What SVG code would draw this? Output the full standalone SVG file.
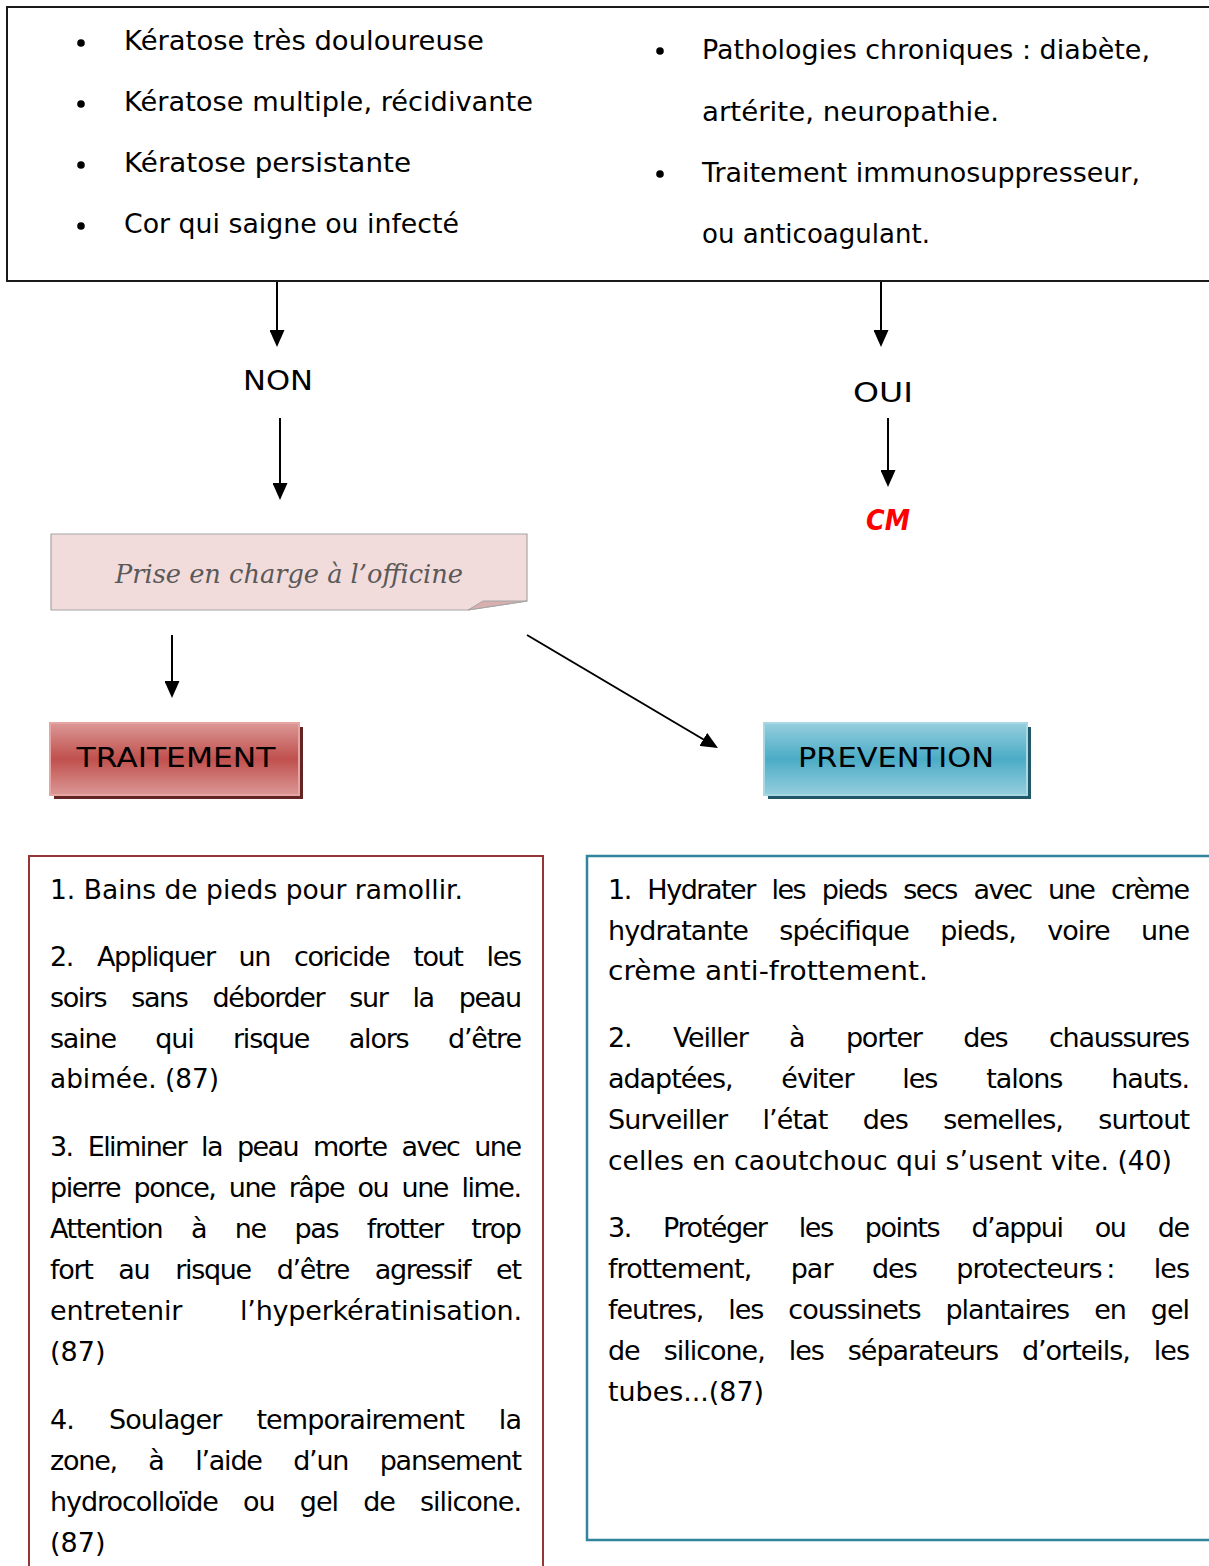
<svg xmlns="http://www.w3.org/2000/svg" width="1209" height="1566" viewBox="0 0 1209 1566">
<style>
.t{font-family:"DejaVu Sans","Noto Sans",sans-serif;font-size:27px;fill:#000}
.lbl{font-family:"DejaVu Sans","Noto Sans",sans-serif;font-size:27px;fill:#000;text-anchor:middle}
.conn{stroke:#000;stroke-width:2;fill:none;marker-end:url(#ah)}
.bul{fill:#000}
</style>
<defs>
<marker id="ah" viewBox="0 0 17 15" refX="14" refY="7.5" markerWidth="17" markerHeight="15" markerUnits="userSpaceOnUse" orient="auto">
<path d="M0,0 L17,7.5 L0,15 Z" fill="#000"/>
</marker>
<linearGradient id="gRed" x1="0" y1="0" x2="0" y2="1">
<stop offset="0" stop-color="#DB9896"/>
<stop offset="0.5" stop-color="#C0504D"/>
<stop offset="1" stop-color="#DB9896"/>
</linearGradient>
<linearGradient id="gBlue" x1="0" y1="0" x2="0" y2="1">
<stop offset="0" stop-color="#95CEDD"/>
<stop offset="0.5" stop-color="#4BACC6"/>
<stop offset="1" stop-color="#95CEDD"/>
</linearGradient>
</defs>

<g id="criteria">
<rect x="7" y="7" width="1212" height="274" fill="#fff" stroke="#1a1a1a" stroke-width="2"/>
<circle class="bul" cx="81" cy="43" r="3.8"/>
<circle class="bul" cx="81" cy="104" r="3.8"/>
<circle class="bul" cx="81" cy="165" r="3.8"/>
<circle class="bul" cx="81" cy="226" r="3.8"/>
<text class="t" x="124" y="50" textLength="360" lengthAdjust="spacingAndGlyphs">Kératose très douloureuse</text>
<text class="t" x="124" y="111" textLength="409" lengthAdjust="spacingAndGlyphs">Kératose multiple, récidivante</text>
<text class="t" x="124" y="172" textLength="287" lengthAdjust="spacingAndGlyphs">Kératose persistante</text>
<text class="t" x="124" y="233" textLength="335" lengthAdjust="spacingAndGlyphs">Cor qui saigne ou infecté</text>
<circle class="bul" cx="660" cy="51" r="3.8"/>
<circle class="bul" cx="660" cy="174" r="3.8"/>
<text class="t" x="702" y="59" textLength="448" lengthAdjust="spacingAndGlyphs">Pathologies chroniques : diabète,</text>
<text class="t" x="702" y="121" textLength="297" lengthAdjust="spacingAndGlyphs">artérite, neuropathie.</text>
<text class="t" x="702" y="182" textLength="438" lengthAdjust="spacingAndGlyphs">Traitement immunosuppresseur,</text>
<text class="t" x="702" y="243" textLength="228" lengthAdjust="spacingAndGlyphs">ou anticoagulant.</text>
</g>

<g id="connectors">
<path class="conn" d="M277,282 V344"/>
<path class="conn" d="M280,418 V497"/>
<path class="conn" d="M881,282 V344"/>
<path class="conn" d="M888,418 V484"/>
<path class="conn" d="M172,635 V695"/>
<path class="conn" d="M527,635 L715.4,746.5"/>
</g>

<g id="non">
<text class="lbl" x="278" y="390" textLength="70" lengthAdjust="spacingAndGlyphs">NON</text>
</g>
<g id="oui">
<text class="lbl" x="883" y="402" textLength="60" lengthAdjust="spacingAndGlyphs">OUI</text>
</g>
<g id="cm">
<text x="888" y="530" text-anchor="middle" font-family="DejaVu Sans, sans-serif" font-size="29" font-weight="bold" font-style="italic" fill="#FF0000" textLength="44" lengthAdjust="spacingAndGlyphs">CM</text>
</g>

<g id="officine">
<path d="M51,534 H527 V601 L468,610 H51 Z" fill="#F2DCDB" stroke="#A6A6A6" stroke-width="1.2"/>
<path d="M468,610 L483,601 L527,601 Z" fill="#D8AFAE" stroke="#A6A6A6" stroke-width="1"/>
<text x="289" y="583" text-anchor="middle" font-family="DejaVu Serif, Liberation Serif, serif" font-style="italic" font-size="26.5" fill="#595959" textLength="348" lengthAdjust="spacingAndGlyphs">Prise en charge à l’officine</text>
</g>

<g id="traitement">
<rect x="54" y="727" width="249" height="72" fill="#632523"/>
<rect x="50" y="723" width="249" height="72" fill="url(#gRed)" stroke="#E6A4A2" stroke-width="2"/>
<text class="lbl" x="176" y="767" textLength="199" lengthAdjust="spacingAndGlyphs">TRAITEMENT</text>
</g>

<g id="prevention">
<rect x="768" y="727" width="263" height="72" fill="#215968"/>
<rect x="764" y="723" width="263" height="72" fill="url(#gBlue)" stroke="#A9D8E5" stroke-width="2"/>
<text class="lbl" x="896" y="767" textLength="196" lengthAdjust="spacingAndGlyphs">PREVENTION</text>
</g>

<g id="traitement-list">
<rect x="29" y="856" width="514" height="730" fill="none" stroke="#943634" stroke-width="2"/>
<text class="t" x="50" y="899" textLength="413" lengthAdjust="spacingAndGlyphs">1. Bains de pieds pour ramollir.</text>
<text class="t" x="50" y="966" word-spacing="16.6" textLength="472" lengthAdjust="spacing">2. Appliquer un coricide tout les</text>
<text class="t" x="50" y="1007" word-spacing="18" textLength="472" lengthAdjust="spacing">soirs sans déborder sur la peau</text>
<text class="t" x="50" y="1048" word-spacing="32.1" textLength="472" lengthAdjust="spacing">saine qui risque alors d’être</text>
<text class="t" x="50" y="1088" textLength="169" lengthAdjust="spacingAndGlyphs">abimée. (87)</text>
<text class="t" x="50" y="1156" word-spacing="8" textLength="472" lengthAdjust="spacing">3. Eliminer la peau morte avec une</text>
<text class="t" x="50" y="1197" word-spacing="6.3" textLength="472" lengthAdjust="spacing">pierre ponce, une râpe ou une lime.</text>
<text class="t" x="50" y="1238" word-spacing="21.5" textLength="472" lengthAdjust="spacing">Attention à ne pas frotter trop</text>
<text class="t" x="50" y="1279" word-spacing="18.5" textLength="472" lengthAdjust="spacing">fort au risque d’être agressif et</text>
<text class="t" x="50" y="1320" word-spacing="49.5" textLength="472" lengthAdjust="spacing">entretenir l’hyperkératinisation.</text>
<text class="t" x="50" y="1361">(87)</text>
<text class="t" x="50" y="1429" word-spacing="27.3" textLength="472" lengthAdjust="spacing">4. Soulager temporairement la</text>
<text class="t" x="50" y="1470" word-spacing="24.1" textLength="472" lengthAdjust="spacing">zone, à l’aide d’un pansement</text>
<text class="t" x="50" y="1511" word-spacing="17.7" textLength="472" lengthAdjust="spacing">hydrocolloïde ou gel de silicone.</text>
<text class="t" x="50" y="1552">(87)</text>
</g>

<g id="prevention-list">
<rect x="587" y="856" width="640" height="684" fill="none" stroke="#31849B" stroke-width="2.5"/>
<text class="t" x="608" y="899" word-spacing="9.5" textLength="582" lengthAdjust="spacing">1. Hydrater les pieds secs avec une crème</text>
<text class="t" x="608" y="940" word-spacing="23.7" textLength="582" lengthAdjust="spacing">hydratante spécifique pieds, voire une</text>
<text class="t" x="608" y="980" textLength="320" lengthAdjust="spacingAndGlyphs">crème anti-frottement.</text>
<text class="t" x="608" y="1047" word-spacing="34.2" textLength="582" lengthAdjust="spacing">2. Veiller à porter des chaussures</text>
<text class="t" x="608" y="1088" word-spacing="41.3" textLength="582" lengthAdjust="spacing">adaptées, éviter les talons hauts.</text>
<text class="t" x="608" y="1129" word-spacing="27.7" textLength="582" lengthAdjust="spacing">Surveiller l’état des semelles, surtout</text>
<text class="t" x="608" y="1170" textLength="564" lengthAdjust="spacingAndGlyphs">celles en caoutchouc qui s’usent vite. (40)</text>
<text class="t" x="608" y="1237" word-spacing="25.1" textLength="582" lengthAdjust="spacing">3. Protéger les points d’appui ou de</text>
<text class="t" x="608" y="1278" word-spacing="31.6" textLength="582" lengthAdjust="spacing">frottement, par des protecteurs&#8239;: les</text>
<text class="t" x="608" y="1319" word-spacing="17.5" textLength="582" lengthAdjust="spacing">feutres, les coussinets plantaires en gel</text>
<text class="t" x="608" y="1360" word-spacing="16.4" textLength="582" lengthAdjust="spacing">de silicone, les séparateurs d’orteils, les</text>
<text class="t" x="608" y="1401" textLength="156" lengthAdjust="spacingAndGlyphs">tubes...(87)</text>
</g>
</svg>
